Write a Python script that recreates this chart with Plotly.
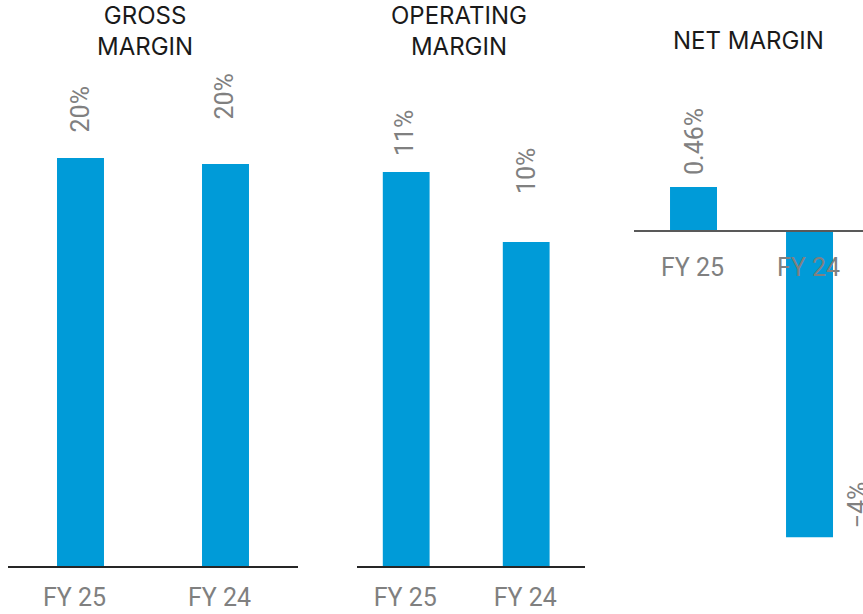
import plotly.graph_objects as go

years = ["FY 25", "FY 24"]

gross_margin = [20.3, 20.0]
gross_labels = ["20%", "20%"]

operating_margin = [11.0, 10.0]
operating_labels = ["11%", "10%"]

net_margin = [0.46, -3.2]
net_labels = ["0.46%", "\u22124%"]

titles = ["GROSS<br>MARGIN", "OPERATING<br>MARGIN", "NET MARGIN"]

BAR_COLOR = "#009bd8"
LABEL_COLOR = "#808080"
W, H = 863, 614

fig = go.Figure()

panels = [
    (gross_margin, gross_labels, "x", "y", 0.324),
    (operating_margin, operating_labels, "x2", "y2", 0.39),
    (net_margin, net_labels, "x3", "y3", 0.405),
]
for vals, labs, xa, ya, bw in panels:
    fig.add_trace(go.Bar(x=years, y=vals, xaxis=xa, yaxis=ya, width=bw,
                         marker_color=BAR_COLOR, marker_line_width=0,
                         showlegend=False, hoverinfo="skip"))

# label offsets (px) as they sit in the original
label_shift = {
    "x": [(0, 23), (-2, 42)],
    "x2": [(-1, 14), (1, 46)],
    "x3": [(1, 10), (48, 7)],
}
for vals, labs, xa, ya, bw in panels:
    for i, (v, t) in enumerate(zip(vals, labs)):
        dx, dy = label_shift[xa][i]
        fig.add_annotation(x=years[i], y=v, xref=xa, yref=ya, text=t,
                           textangle=-90, showarrow=False,
                           xanchor="center", yanchor="bottom",
                           xshift=dx, yshift=dy,
                           font=dict(family="Roboto", size=25, color=LABEL_COLOR))

title_x = [145, 459, 748]
title_y = [31, 31, 40]
for t, tx, ty in zip(titles, title_x, title_y):
    fig.add_annotation(x=tx / W, y=1 - ty / H, xref="paper", yref="paper",
                       text=t, showarrow=False, xanchor="center", yanchor="middle",
                       font=dict(family="Inter", size=24, color="#1a1a1a"))

xcommon = dict(showgrid=False, zeroline=False, showline=True, linewidth=1.5,
               ticks="", fixedrange=True,
               tickfont=dict(family="Roboto", size=25, color=LABEL_COLOR))
ycommon = dict(visible=False, showgrid=False, zeroline=False, fixedrange=True)

base = 566
fig.update_layout(
    width=W, height=H,
    margin=dict(l=0, r=0, t=0, b=0),
    paper_bgcolor="white", plot_bgcolor="rgba(0,0,0,0)",
    xaxis=dict(domain=[8 / W, 298 / W], range=[-0.5, 1.5], anchor="y",
               linecolor="#262626", ticklabelstandoff=8, ticklabelshift=-6, **xcommon),
    xaxis2=dict(domain=[357 / W, 585 / W], range=[-0.41, 1.49], anchor="y2",
                linecolor="#262626", ticklabelstandoff=8, ticklabelshift=-1, **xcommon),
    xaxis3=dict(domain=[634 / W, 1], range=[-0.513, 1.461], anchor="free",
                position=1 - 231 / H, linecolor="#595959", ticklabelstandoff=14,
                ticklabelshift=-1, **xcommon),
    yaxis=dict(domain=[(H - base) / H, 1], range=[0, base / 20.1], anchor="x", **ycommon),
    yaxis2=dict(domain=[(H - base) / H, 1], range=[5.37, 5.37 + base / 70.0], anchor="x2", **ycommon),
    yaxis3=dict(domain=[0, 1], range=[-(H - 231) / 95.7, 231 / 95.7], anchor="x3", **ycommon),
)

fig.write_html("out.html", config={"displayModeBar": False},
               post_script="document.body.style.margin='0';document.body.style.overflow='hidden';")
